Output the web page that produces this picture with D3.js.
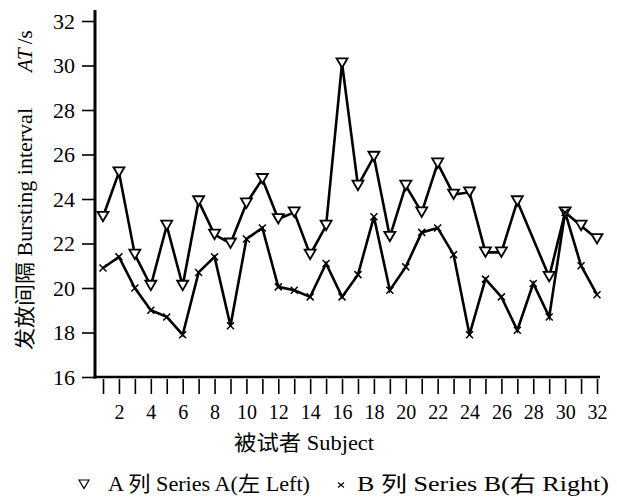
<!DOCTYPE html>
<html>
<head>
<meta charset="utf-8">
<script src="https://cdn.jsdelivr.net/npm/d3@7"></script>
<style>
  html, body { margin: 0; padding: 0; background: #fff; }
  svg { display: block; }
  text { font-family: "Liberation Serif", "Noto Sans CJK SC", serif; fill: #000; }
</style>
</head>
<body>
<svg id="chart" width="617" height="499"></svg>
<script>
// ---- data ----
const subjects = d3.range(1, 33);
const seriesA = [23.2, 25.2, 21.5, 20.1, 22.8, 20.1, 23.9, 22.4, 22.0, 23.8, 24.9, 23.1, 23.4, 21.5, 22.8, 30.1,
                 24.6, 25.9, 22.3, 24.6, 23.4, 25.6, 24.2, 24.3, 21.6, 21.6, 23.9, null, 20.5, 23.4, 22.8, 22.2];
const seriesB = [20.9, 21.4, 20.0, 19.0, 18.7, 17.9, 20.7, 21.4, 18.3, 22.2, 22.7, 20.05, 19.9, 19.6, 21.1, 19.6,
                 20.6, 23.2, 19.9, 20.95, 22.5, 22.7, 21.5, 17.9, 20.4, 19.6, 18.1, 20.2, 18.7, 23.4, 21.0, 19.7];
const yTicks = [16, 18, 20, 22, 24, 26, 28, 30, 32];
const xTickLabels = [2, 4, 6, 8, 10, 12, 14, 16, 18, 20, 22, 24, 26, 28, 30, 32];

const svg = d3.select("#chart");
const x = d3.scaleLinear().domain([1, 32]).range([103, 597]);
const y = d3.scaleLinear().domain([16, 32]).range([377, 21]);
const axisX0 = 95;

// y axis
const yAxis = d3.axisLeft(y).tickValues(yTicks).tickSize(13).tickPadding(5).tickFormat(d3.format("d"));
const gy = svg.append("g").attr("transform", `translate(${axisX0},0)`).call(yAxis);
gy.select(".domain").remove();
gy.selectAll(".tick line").attr("stroke", "#000").attr("stroke-width", 1.6);
gy.selectAll(".tick text").attr("font-size", 22).attr("font-family", "Liberation Serif").attr("x", -20).attr("dy", "0.34em");
svg.append("line").attr("x1", axisX0).attr("x2", axisX0).attr("y1", 10).attr("y2", y(16) + 1.5)
   .attr("stroke", "#000").attr("stroke-width", 3);

// x axis
svg.append("line").attr("x1", axisX0 - 1.5).attr("x2", 600).attr("y1", y(16)).attr("y2", y(16))
   .attr("stroke", "#000").attr("stroke-width", 2.5);
const xAxis = d3.axisBottom(x).tickValues(subjects).tickSize(15).tickFormat(d => xTickLabels.includes(d) ? d : "");
const gx = svg.append("g").attr("transform", `translate(0,${y(16) + 2})`).call(xAxis);
gx.select(".domain").remove();
gx.selectAll(".tick line").attr("stroke", "#000").attr("stroke-width", 1.6);
gx.selectAll(".tick text").attr("font-size", 20).attr("font-family", "Liberation Serif").attr("y", 26);

// lines
const lineGen = d3.line().x(d => x(d.s)).y(d => y(d.v));
const dataA = subjects.map((s, i) => ({ s, v: seriesA[i] })).filter(d => d.v != null);
const dataB = subjects.map((s, i) => ({ s, v: seriesB[i] }));
svg.append("path").datum(dataB).attr("d", lineGen).attr("fill", "none").attr("stroke", "#000")
   .attr("stroke-width", 2.6).attr("stroke-linejoin", "miter");
svg.append("path").datum(dataA).attr("d", lineGen).attr("fill", "none").attr("stroke", "#000")
   .attr("stroke-width", 2.6).attr("stroke-linejoin", "miter");

// markers
const triPath = "M-5.5,-5 L5.5,-5 L0,4.5 Z";
const crossPath = "M-3.5,-3.5 L3.5,3.5 M-3.5,3.5 L3.5,-3.5";
svg.append("g").selectAll("path").data(dataA).join("path")
   .attr("d", triPath).attr("transform", d => `translate(${x(d.s)},${y(d.v)})`)
   .attr("fill", "#fff").attr("stroke", "#000").attr("stroke-width", 1.8);
svg.append("g").selectAll("path").data(dataB).join("path")
   .attr("d", crossPath).attr("transform", d => `translate(${x(d.s)},${y(d.v)})`)
   .attr("fill", "none").attr("stroke", "#000").attr("stroke-width", 1.5);

// axis titles
svg.append("text").attr("x", 234).attr("y", 450).attr("font-size", 21)
   .attr("textLength", 140).attr("lengthAdjust", "spacingAndGlyphs")
   .text("被试者 Subject");

svg.append("text").attr("transform", "translate(32,350) rotate(-90)").attr("font-size", 21)
   .attr("textLength", 242).attr("lengthAdjust", "spacingAndGlyphs").text("发放间隔 Bursting interval");
const yt2 = svg.append("text").attr("transform", "translate(32,72) rotate(-90)").attr("font-size", 21);
yt2.append("tspan").attr("font-style", "italic").text("AT");
yt2.append("tspan").attr("dx", 4).text("/s");

// legend
const lg = svg.append("g");
lg.append("path").attr("d", "M-5,-4 L5,-4 L0,4.5 Z").attr("transform", "translate(84,484)")
  .attr("fill", "none").attr("stroke", "#000").attr("stroke-width", 1.2);
lg.append("text").attr("x", 108).attr("y", 491).attr("font-size", 21)
  .attr("textLength", 202).attr("lengthAdjust", "spacingAndGlyphs").text("A 列 Series A(左 Left)");
lg.append("path").attr("d", "M-3,-2.5 L3,2.5 M-3,2.5 L3,-2.5").attr("transform", "translate(341,485)")
  .attr("fill", "none").attr("stroke", "#000").attr("stroke-width", 1.2);
lg.append("text").attr("x", 357).attr("y", 491).attr("font-size", 21)
  .attr("textLength", 252).attr("lengthAdjust", "spacingAndGlyphs").text("B 列 Series B(右 Right)");
</script>
</body>
</html>
